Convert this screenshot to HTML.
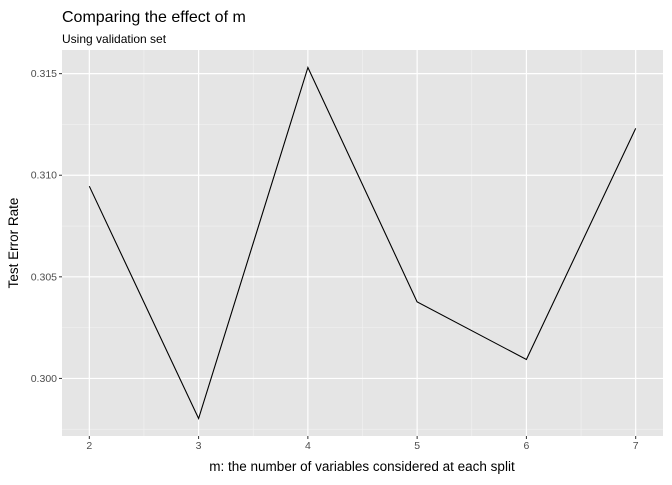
<!DOCTYPE html>
<html><head><meta charset="utf-8"><style>
body{margin:0;background:#fff;}
svg text{font-family:"Liberation Sans",Arial,sans-serif;}
</style></head><body>
<svg id="chart" width="672" height="480" xmlns="http://www.w3.org/2000/svg">
<text x="62" y="22" font-size="16" fill="#000">Comparing the effect of m</text>
<text x="62" y="43" font-size="12" fill="#000">Using validation set</text>
<rect x="62" y="50" width="601" height="386" fill="#e5e5e5"/>
<g id="grid"></g>
<g id="axes"></g>
<path id="line" fill="none" stroke="#000" stroke-width="1.1"/>
<text x="362" y="471" font-size="13.5" text-anchor="middle" fill="#000">m: the number of variables considered at each split</text>
<text transform="translate(18,243) rotate(-90)" font-size="13.5" text-anchor="middle" fill="#000">Test Error Rate</text>
</svg>
<script>
const mValues=[2,3,4,5,6,7];
const errorRates=[0.30946,0.29803,0.31530,0.30377,0.30093,0.31231];
const yTicks=[0.300,0.305,0.310,0.315];
const yTickLabels=["0.300","0.305","0.310","0.315"];
const L=62,R=663,T=50,B=436;
const xMin=1.75,xMax=7.25;
const yMin=Math.min(...errorRates),yMax=Math.max(...errorRates);
const pad=(yMax-yMin)*0.05;
const y0=yMin-pad,y1=yMax+pad;
const sx=v=>L+(v-xMin)/(xMax-xMin)*(R-L);
const sy=v=>B-(v-y0)/(y1-y0)*(B-T);
const NS="http://www.w3.org/2000/svg";
const grid=document.getElementById('grid'),axes=document.getElementById('axes');
function ln(p,x1,y1_,x2,y2,c,w){const l=document.createElementNS(NS,'line');l.setAttribute('x1',x1);l.setAttribute('y1',y1_);l.setAttribute('x2',x2);l.setAttribute('y2',y2);l.setAttribute('stroke',c);l.setAttribute('stroke-width',w);p.appendChild(l);return l;}
for(let i=0;i<mValues.length-1;i++){const v=(mValues[i]+mValues[i+1])/2;
const g=ln(grid,sx(v),T,sx(v),B,'#f2f2f2',0.6);

}
for(let i=0;i<yTicks.length+1;i++){const v=i<yTicks.length?yTicks[i]-0.0025:yTicks[yTicks.length-1]+0.0025;
if(v<y0||v>y1)continue;
const g=ln(grid,L,sy(v),R,sy(v),'#f2f2f2',0.6);

}
mValues.forEach(v=>{const x=sx(v);
const g=ln(grid,x,T,x,B,'#fff',1.2);


const t=ln(axes,x,B,x,B+3,'#333',1);


const tx=document.createElementNS(NS,'text');tx.setAttribute('x',x);tx.setAttribute('y',B+13);tx.setAttribute('font-size','10.5');tx.setAttribute('fill','#4d4d4d');tx.setAttribute('text-anchor','middle');tx.textContent=v;


axes.appendChild(tx);});
yTicks.forEach((v,i)=>{const y=sy(v);
const g=ln(grid,L,y,R,y,'#fff',1.2);


const t=ln(axes,L-3,y,L,y,'#333',1);


const tx=document.createElementNS(NS,'text');tx.setAttribute('x',L-5);tx.setAttribute('y',y+3.5);tx.setAttribute('font-size','10.5');tx.setAttribute('fill','#4d4d4d');tx.setAttribute('text-anchor','end');tx.textContent=yTickLabels[i];


axes.appendChild(tx);});
document.getElementById('line').setAttribute('d',mValues.map((v,i)=>(i?'L':'M')+sx(v).toFixed(1)+','+sy(errorRates[i]).toFixed(1)).join(' '));
</script>
</body></html>
